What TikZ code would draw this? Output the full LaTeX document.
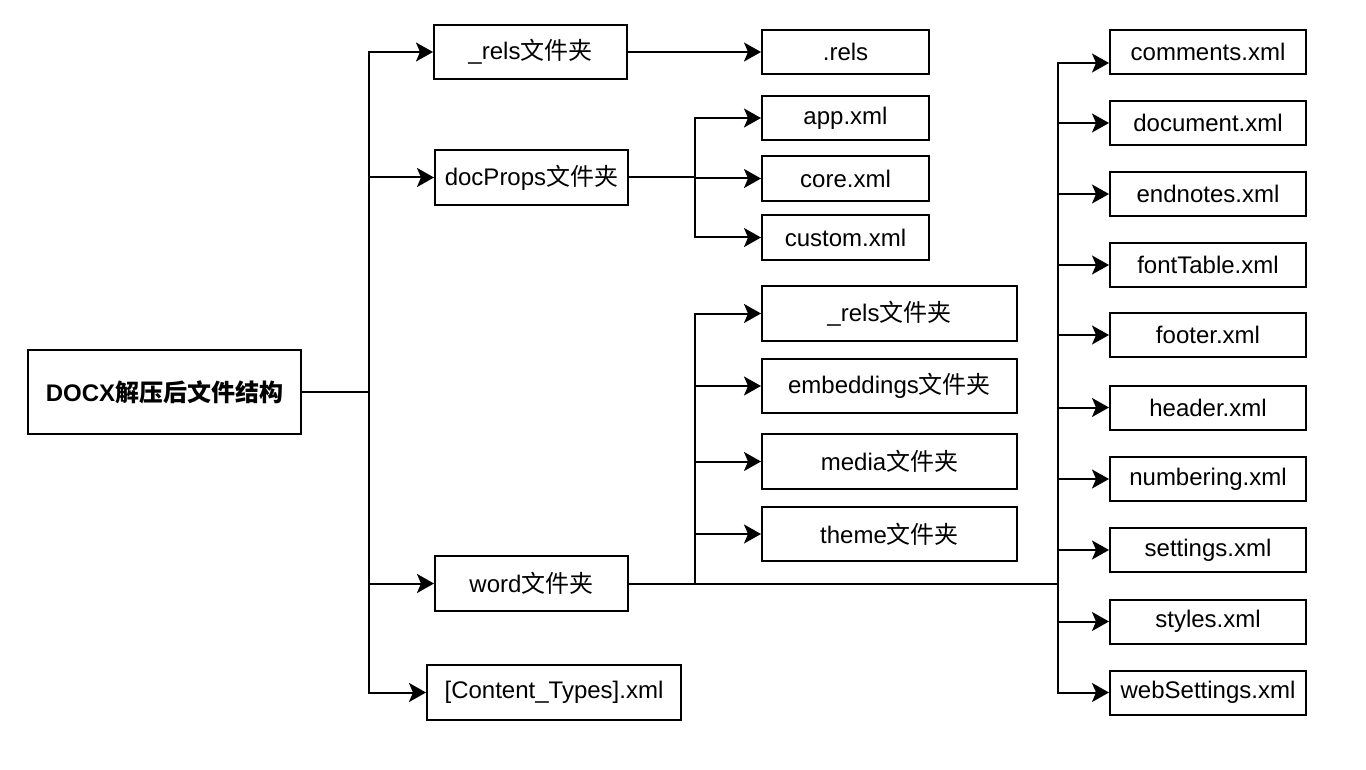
\documentclass[tikz,border=0pt]{standalone}
\usepackage{fontspec}
\setmainfont{Liberation Sans}
\newfontfamily\cjk{Noto Sans CJK SC}
\usetikzlibrary{arrows.meta}
\newcommand{\wjj}{{\cjk 文件夹}}
\begin{document}
\begin{tikzpicture}[x=1pt,y=-1pt,
  box/.style={draw=black,line width=2pt,fill=white,inner sep=0pt,
    font=\fontsize{24}{28}\selectfont,text=black},
  arr/.style={line width=2pt,-{Stealth[length=17pt,width=19pt,inset=4pt]}},
  ln/.style={line width=2pt}]
\useasboundingbox[fill=white] (0,0) rectangle (1366,770);
% root
\node[box,minimum width=273pt,minimum height=84pt,font=\fontsize{24}{28}\selectfont\bfseries] (root) at (164.5,392) {DOCX{\cjk 解压后文件结构}};
% level 1
\node[box,minimum width=193pt,minimum height=54pt] (relsA) at (530.5,52) {\_rels\wjj};
\node[box,minimum width=193pt,minimum height=55pt] (docp) at (531.5,177.5) {docProps\wjj};
\node[box,minimum width=193pt,minimum height=55pt] (word) at (531.5,583.5) {word\wjj};
\node[box,minimum width=254pt,minimum height=55pt] (ctypes) at (554,692.5) {[Content\_Types].xml};
% level 2
\node[box,minimum width=167pt,minimum height=44pt] (rels) at (845.5,52) {.rels};
\node[box,minimum width=167pt,minimum height=44pt] (app) at (845.5,118) {app.xml};
\node[box,minimum width=167pt,minimum height=45pt] (core) at (845.5,178.5) {core.xml};
\node[box,minimum width=167pt,minimum height=45pt] (custom) at (845.5,237.5) {custom.xml};
\node[box,minimum width=255pt,minimum height=55pt] (wrels) at (889.5,313.5) {\_rels\wjj};
\node[box,minimum width=255pt,minimum height=54pt] (emb) at (889.5,386) {embeddings\wjj};
\node[box,minimum width=255pt,minimum height=55pt] (media) at (889.5,461.5) {media\wjj};
\node[box,minimum width=255pt,minimum height=54pt] (theme) at (889.5,534) {theme\wjj};
% right column
\tikzset{rbox/.style={box,minimum width=196pt,minimum height=44pt}}
\node[rbox] (comments) at (1208,52) {comments.xml};
\node[rbox] (document) at (1208,123) {document.xml};
\node[rbox] (endnotes) at (1208,194) {endnotes.xml};
\node[rbox] (fonttable) at (1208,265) {fontTable.xml};
\node[rbox] (footer) at (1208,335) {footer.xml};
\node[rbox] (header) at (1208,407.5) {header.xml};
\node[rbox] (numbering) at (1208,479) {numbering.xml};
\node[rbox] (settings) at (1208,550) {settings.xml};
\node[rbox] (styles) at (1208,621.5) {styles.xml};
\node[rbox] (websettings) at (1208,692.5) {webSettings.xml};
% junctions
\coordinate (j1) at (369,392);
\coordinate (j2) at (695,177.5);
\coordinate (j3) at (695,583.5);
\coordinate (j4) at (1058,583.5);
% root connectors
\draw[ln] (root.east) -- (j1);
\foreach \t in {relsA,docp,word,ctypes} \draw[arr] (j1) |- (\t.west);
% _rels
\draw[arr] (relsA.east) -- (rels.west);
% docProps
\draw[ln] (docp.east) -- (j2);
\foreach \t in {app,core,custom} \draw[arr] (j2) |- (\t.west);
% word
\draw[ln] (word.east) -- (j4);
\foreach \t in {wrels,emb,media,theme} \draw[arr] (j3) |- (\t.west);
\draw[arr] (j4) |- ([yshift=-11pt]comments.west);
\foreach \t in {document,endnotes,fonttable,footer,header,numbering,settings,styles,websettings} \draw[arr] (j4) |- (\t.west);
\end{tikzpicture}
\end{document}
